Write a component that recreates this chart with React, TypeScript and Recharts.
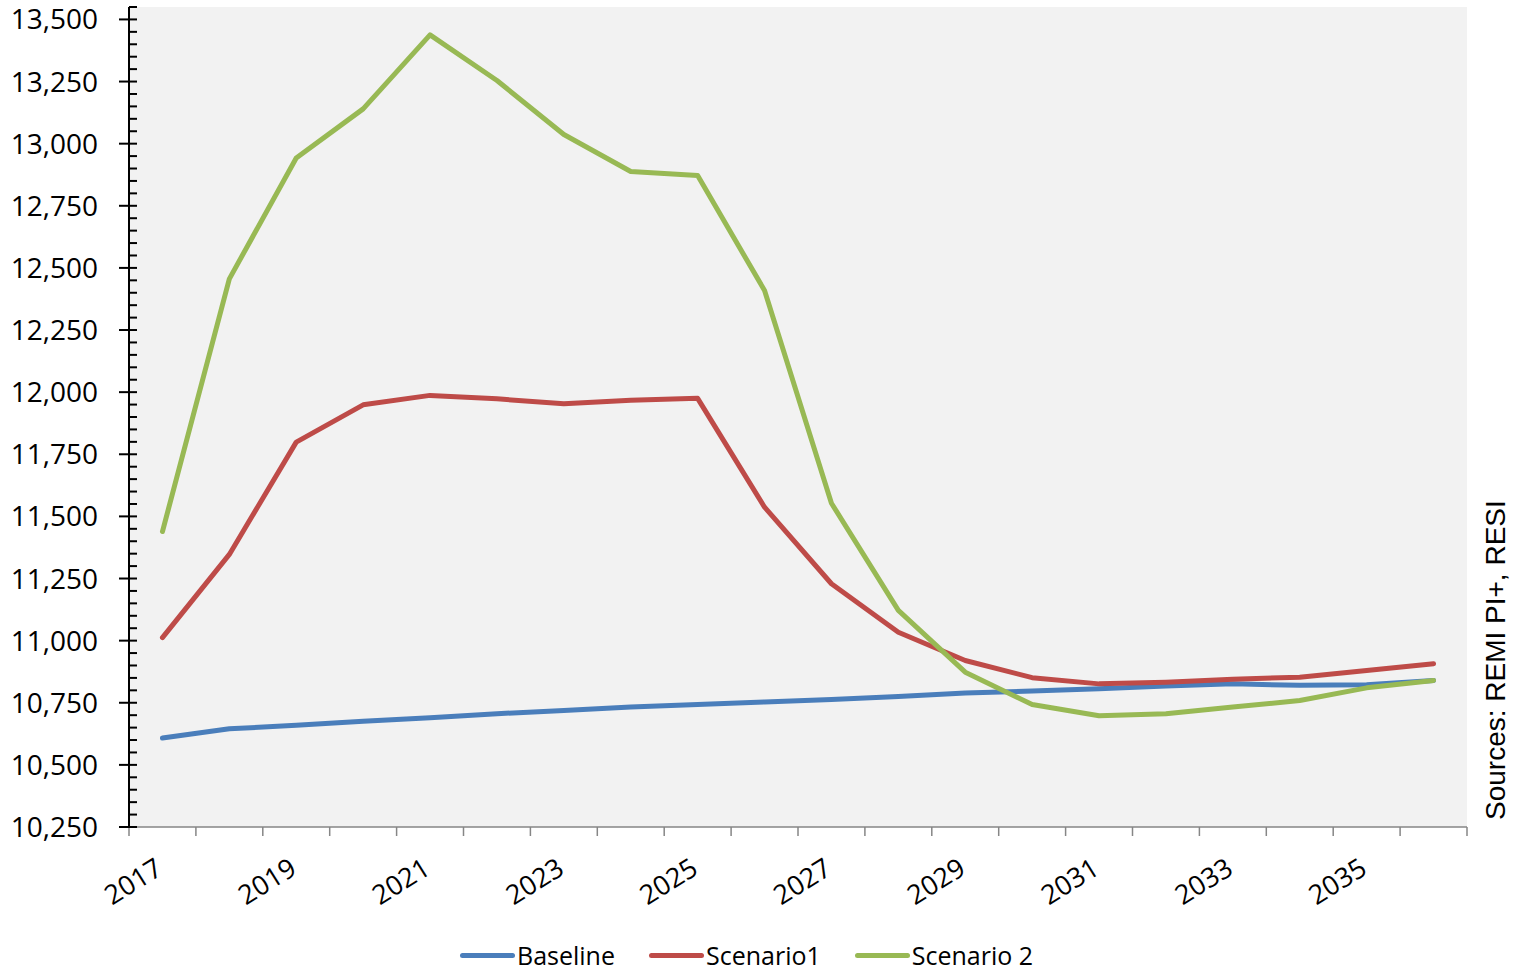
import React from 'react';
import { LineChart, Line, XAxis, YAxis, CartesianGrid, Legend } from 'recharts';

const years = [
  2017, 2018, 2019, 2020, 2021, 2022, 2023, 2024, 2025, 2026,
  2027, 2028, 2029, 2030, 2031, 2032, 2033, 2034, 2035, 2036,
];

const baseline = [
  10608, 10645, 10659, 10676, 10690, 10706, 10719, 10733, 10743, 10753,
  10763, 10775, 10789, 10797, 10806, 10817, 10826, 10820, 10822, 10840,
];

const scenario1 = [
  11012, 11347, 11799, 11949, 11987, 11973, 11953, 11967, 11975, 11537,
  11229, 11034, 10920, 10851, 10826, 10833, 10845, 10853, 10880, 10907,
];

const scenario2 = [
  11439, 12456, 12942, 13140, 13438, 13254, 13037, 12888, 12872, 12409,
  11553, 11122, 10873, 10743, 10698, 10706, 10733, 10759, 10810, 10840,
];

const yMajorTicks = [
  10250, 10500, 10750, 11000, 11250, 11500, 11750, 12000, 12250, 12500,
  12750, 13000, 13250, 13500,
];
const yMin = 10250;
const yMax = 13550;
const yMinorStep = 50;

const labelYears = [2017, 2019, 2021, 2023, 2025, 2027, 2029, 2031, 2033, 2035];

const series = [
  { key: 'baseline', name: 'Baseline', color: '#4A7EBB' },
  { key: 'scenario1', name: 'Scenario1', color: '#BE4B48' },
  { key: 'scenario2', name: 'Scenario 2', color: '#98B954' },
];

const data = years.map((year, i) => ({
  year,
  baseline: baseline[i],
  scenario1: scenario1[i],
  scenario2: scenario2[i],
}));

// tick marks sit between categories, like an Excel category axis
const boundaries = [...years.map((y) => y - 0.5), years[years.length - 1] + 0.5];
const xTicks = [...boundaries, ...labelYears].sort((a, b) => a - b);

const yTicks: number[] = [];
for (let v = yMin; v <= yMax; v += yMinorStep) yTicks.push(v);

const FONT = '"Open Sans", sans-serif';

function YTick({ x, y, payload }: any) {
  const v = payload.value;
  const major = yMajorTicks.includes(v);
  if (!major) {
    return <line x1={x} x2={x + 8} y1={y} y2={y} stroke="#000" strokeWidth={2} />;
  }
  return (
    <g>
      <line x1={x - 10} x2={x + 8} y1={y} y2={y} stroke="#000" strokeWidth={2} />
      <text
        x={x - 31}
        y={y + 10}
        textAnchor="end"
        fontSize={28}
        fontFamily={FONT}
        fill="#000"
      >
        {v.toLocaleString('en-US')}
      </text>
    </g>
  );
}

function XTick({ x, y, payload }: any) {
  const v = payload.value;
  if (!Number.isInteger(v)) {
    return <line x1={x} x2={x} y1={y} y2={y + 9} stroke="#868686" strokeWidth={1.5} />;
  }
  const px = x + 2;
  const py = y + 46;
  return (
    <text
      x={px}
      y={py}
      textAnchor="end"
      fontSize={27}
      fontFamily={FONT}
      fill="#000"
      transform={`rotate(-32, ${px}, ${py})`}
    >
      {v}
    </text>
  );
}

function LegendContent() {
  return (
    <div style={{ display: 'flex', alignItems: 'center', height: 34, fontFamily: FONT, fontSize: 25 }}>
      {series.map((s) => (
        <div key={s.key} style={{ display: 'flex', alignItems: 'center', marginRight: 34 }}>
          <span
            style={{
              display: 'inline-block',
              width: 55,
              height: 5,
              borderRadius: 3,
              background: s.color,
              marginRight: 2,
            }}
          />
          <span style={{ color: '#000' }}>{s.name}</span>
        </div>
      ))}
    </div>
  );
}

export default function App() {
  return (
    <div style={{ position: 'absolute', left: 0, top: 0, width: 1513, height: 972, background: '#fff' }}>
      <LineChart
        width={1513}
        height={972}
        data={data}
        margin={{ top: 7, right: 46, bottom: 0, left: 0 }}
      >
        <CartesianGrid fill="#f2f2f2" horizontal={false} vertical={false} stroke="none" />
        <XAxis
          dataKey="year"
          type="number"
          domain={[boundaries[0], boundaries[boundaries.length - 1]]}
          ticks={xTicks}
          interval={0}
          tickLine={false}
          tickSize={0}
          tickMargin={0}
          tick={<XTick />}
          axisLine={{ stroke: '#868686', strokeWidth: 1.5 }}
          height={111}
        />
        <YAxis
          type="number"
          domain={[yMin, yMax]}
          ticks={yTicks}
          interval={0}
          tickLine={false}
          tickSize={0}
          tickMargin={0}
          tick={<YTick />}
          axisLine={{ stroke: '#000', strokeWidth: 2 }}
          width={129}
        />
        <Legend
          verticalAlign="bottom"
          content={<LegendContent />}
          wrapperStyle={{ left: 460, width: 'auto' }}
        />
        {series.map((s) => (
          <Line
            key={s.key}
            type="linear"
            dataKey={s.key}
            name={s.name}
            stroke={s.color}
            strokeWidth={5}
            strokeLinejoin="round"
            strokeLinecap="round"
            dot={false}
            activeDot={false}
            isAnimationActive={false}
          />
        ))}
      </LineChart>
      <svg
        width={1513}
        height={972}
        style={{ position: 'absolute', left: 0, top: 0, pointerEvents: 'none' }}
      >
        <text
          x={1505}
          y={820}
          fontSize={28}
          fontFamily='"Liberation Sans", Arial, sans-serif'
          fill="#000"
          transform="rotate(-90, 1505, 820)"
        >
          Sources: REMI PI+, RESI
        </text>
      </svg>
    </div>
  );
}
